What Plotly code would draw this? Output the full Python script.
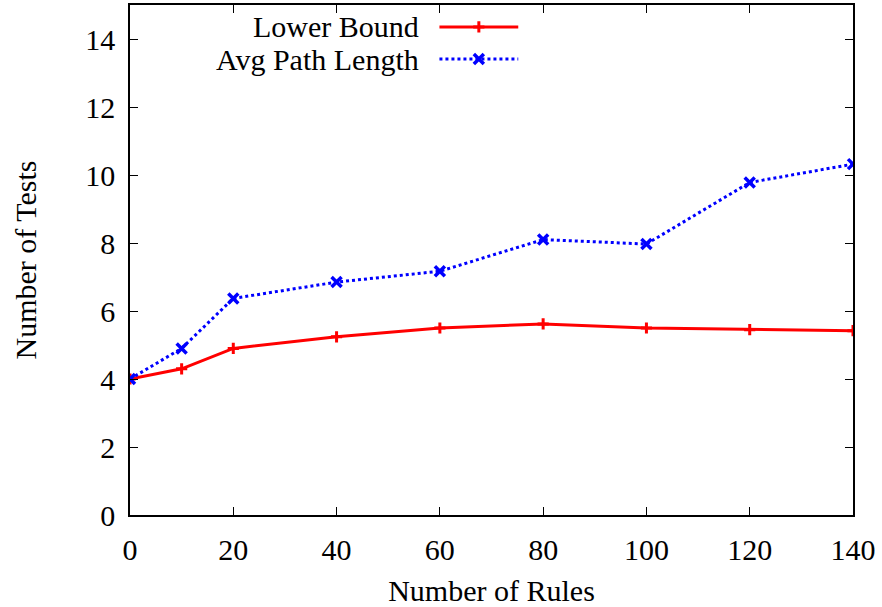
import plotly.graph_objects as go

rules = [0, 10, 20, 40, 60, 80, 100, 120, 140]
lower_bound = [4.0, 4.3, 4.9, 5.24, 5.5, 5.62, 5.5, 5.45, 5.42]
avg_path = [4.0, 4.9, 6.37, 6.85, 7.17, 8.1, 7.97, 9.78, 10.32]
names = ["Lower Bound", "Avg Path Length"]
x_ticks = [0, 20, 40, 60, 80, 100, 120, 140]
y_ticks = [0, 2, 4, 6, 8, 10, 12, 14]

FONT = "Liberation Serif"
FS = 30
red = "#ff0000"
blue = "#0000ff"

fig = go.Figure()
fig.add_trace(go.Scatter(x=rules, y=lower_bound, mode="lines+markers", name=names[0],
                         line=dict(color=red, width=3),
                         marker=dict(symbol="cross-thin", size=8, line=dict(color=red, width=3)),
                         showlegend=False))
fig.add_trace(go.Scatter(x=rules, y=avg_path, mode="lines+markers", name=names[1],
                         line=dict(color=blue, width=3, dash="dot"),
                         marker=dict(symbol="x-thin", size=10, line=dict(color=blue, width=3.5)),
                         showlegend=False))

# legend samples drawn on an overlay axis (0..1 over the plot area)
leg_x = [0.428, 0.537]
leg_y = [0.957, 0.894]
fig.add_trace(go.Scatter(x=leg_x, y=[leg_y[0]] * 2, xaxis="x2", yaxis="y2", mode="lines",
                         line=dict(color=red, width=3), showlegend=False, hoverinfo="skip"))
fig.add_trace(go.Scatter(x=[sum(leg_x) / 2], y=[leg_y[0]], xaxis="x2", yaxis="y2", mode="markers",
                         marker=dict(symbol="cross-thin", size=8, line=dict(color=red, width=3)),
                         showlegend=False, hoverinfo="skip"))
fig.add_trace(go.Scatter(x=leg_x, y=[leg_y[1]] * 2, xaxis="x2", yaxis="y2", mode="lines",
                         line=dict(color=blue, width=3, dash="dot"), showlegend=False, hoverinfo="skip"))
fig.add_trace(go.Scatter(x=[sum(leg_x) / 2], y=[leg_y[1]], xaxis="x2", yaxis="y2", mode="markers",
                         marker=dict(symbol="x-thin", size=10, line=dict(color=blue, width=3.5)),
                         showlegend=False, hoverinfo="skip"))

for name, yy in zip(names, leg_y):
    fig.add_annotation(x=0.403, y=yy, xref="x2", yref="y2", text=name, showarrow=False,
                       xanchor="right", yanchor="middle", font=dict(family=FONT, size=FS, color="black"))

axis_common = dict(showline=True, linecolor="black", linewidth=1.5, mirror="ticks",
                   ticks="inside", ticklen=8, tickwidth=1, tickcolor="black",
                   showgrid=False, zeroline=False,
                   tickfont=dict(family=FONT, size=FS, color="black"))

fig.update_layout(
    width=882, height=607,
    margin=dict(l=130, r=29, t=3, b=92),
    paper_bgcolor="white", plot_bgcolor="white",
    xaxis=dict(range=[0, 140], tickvals=x_ticks, ticklabelstandoff=7,
               title=dict(text="Number of Rules", font=dict(family=FONT, size=FS, color="black"), standoff=16),
               **axis_common),
    yaxis=dict(range=[0, 15], tickvals=y_ticks, ticklabelstandoff=7,
               title=dict(text="Number of Tests", font=dict(family=FONT, size=FS, color="black"), standoff=40),
               **axis_common),
    xaxis2=dict(range=[0, 1], overlaying="x", visible=False, fixedrange=True),
    yaxis2=dict(range=[0, 1], overlaying="y", visible=False, fixedrange=True),
)

fig.write_html("out.html")
